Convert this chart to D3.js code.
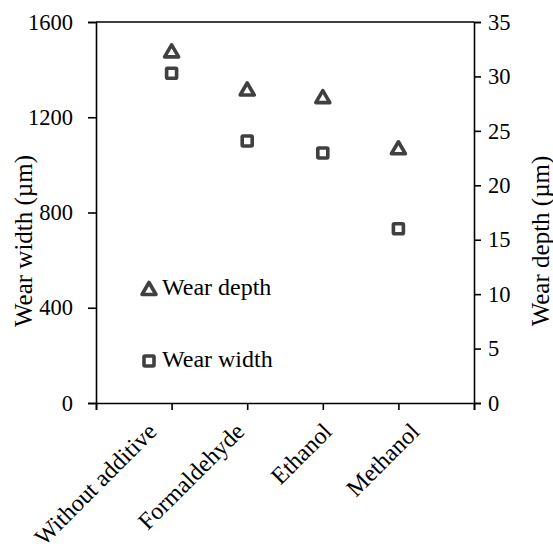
<!DOCTYPE html>
<html>
<head>
<meta charset="utf-8">
<script src="https://cdn.jsdelivr.net/npm/d3@7"></script>
<style>
  body { margin: 0; background: #fff; }
  svg text { font-family: "Liberation Serif", "Times New Roman", serif !important; fill: #000; }
</style>
</head>
<body>
<svg id="chart" width="553" height="547"></svg>
<script>
var categories = ['Without additive', 'Formaldehyde', 'Ethanol', 'Methanol']
var wearWidth = [1385, 1100, 1050, 732]   // µm, left axis
var wearDepth = [32.3, 28.8, 28.1, 23.4]  // µm, right axis
var leftTicks = [0, 400, 800, 1200, 1600]
var rightTicks = [0, 5, 10, 15, 20, 25, 30, 35]

var m = {left: 96, right: 474, top: 22, bottom: 403}
var ink = '#404040'
var serif = '"Liberation Serif", "Times New Roman", serif'

var svg = d3.select('#chart')

// categories sit on ticks 1..4 of a 0..5 axis
var x = d3.scaleLinear().domain([0, categories.length + 1]).range([m.left, m.right])
var yL = d3.scaleLinear().domain([0, 1600]).range([m.bottom, m.top])
var yR = d3.scaleLinear().domain([0, 35]).range([m.bottom, m.top])
// rotated labels are spread a bit wider than the ticks, like the excel original
var xLabel = d3.scalePoint().domain(categories).range([158, 421])

// frame
svg.append('line')
  .attr('x1', m.left).attr('x2', m.right).attr('y1', m.top).attr('y2', m.top)
  .attr('stroke', '#000').attr('stroke-width', 1.6)

var axL = svg.append('g').attr('transform', 'translate(' + m.left + ',0)')
  .call(d3.axisLeft(yL).tickValues(leftTicks).tickSize(8).tickPadding(15).tickFormat(d3.format('d')))
var axR = svg.append('g').attr('transform', 'translate(' + m.right + ',0)')
  .call(d3.axisRight(yR).tickValues(rightTicks).tickSize(7).tickPadding(7))
var axB = svg.append('g').attr('transform', 'translate(0,' + m.bottom + ')')
  .call(d3.axisBottom(x).ticks(categories.length + 1).tickSize(7).tickFormat(''))

;[axL, axR, axB].forEach(function(g){
  g.attr('font-family', serif)
  g.select('.domain').attr('stroke', '#000').attr('stroke-width', 1.6)
  g.selectAll('.tick line').attr('stroke', '#000').attr('stroke-width', 1.6)
  g.selectAll('.tick text').style('font-size', '22.5px').attr('fill', '#000')
})

// category labels, rotated
svg.append('g').selectAll('text').data(categories).join('text')
  .attr('transform', d => 'translate(' + xLabel(d) + ',433) rotate(-45)')
  .attr('text-anchor', 'end')
  .style('font-size', '24px')
  .text(d => d)

// axis titles
svg.append('text')
  .attr('transform', 'translate(32,241) rotate(-90)')
  .attr('text-anchor', 'middle')
  .style('font-size', '25px')
  .text('Wear width (µm)')
svg.append('text')
  .attr('transform', 'translate(549,241) rotate(-90)')
  .attr('text-anchor', 'middle')
  .style('font-size', '25px')
  .text('Wear depth (µm)')

var triPath = 'M0,-6.5 L7,5.5 L-7,5.5 Z'
function tri(sel){
  sel.append('path').attr('d', triPath)
    .attr('fill', '#fff').attr('stroke', ink).attr('stroke-width', 3.6).attr('stroke-linejoin', 'round')
}
function sq(sel){
  sel.append('rect').attr('x', -5).attr('y', -5).attr('width', 10).attr('height', 10).attr('rx', 1)
    .attr('fill', '#fff').attr('stroke', ink).attr('stroke-width', 3.6)
}

svg.append('g').selectAll('g').data(wearWidth).join('g')
  .attr('transform', (d, i) => 'translate(' + x(i + 1) + ',' + yL(d) + ')')
  .call(sq)
svg.append('g').selectAll('g').data(wearDepth).join('g')
  .attr('transform', (d, i) => 'translate(' + x(i + 1) + ',' + yR(d) + ')')
  .call(tri)

// legend
var legend = [{name: 'Wear depth', mark: tri, y: 289}, {name: 'Wear width', mark: sq, y: 361}]
var lg = svg.append('g').selectAll('g').data(legend).join('g')
  .attr('transform', d => 'translate(149,' + d.y + ')')
lg.each(function(d){ d3.select(this).call(d.mark) })
lg.append('text').attr('x', 13).attr('y', 6)
  .style('font-size', '24px')
  .text(d => d.name)
</script>
</body>
</html>
